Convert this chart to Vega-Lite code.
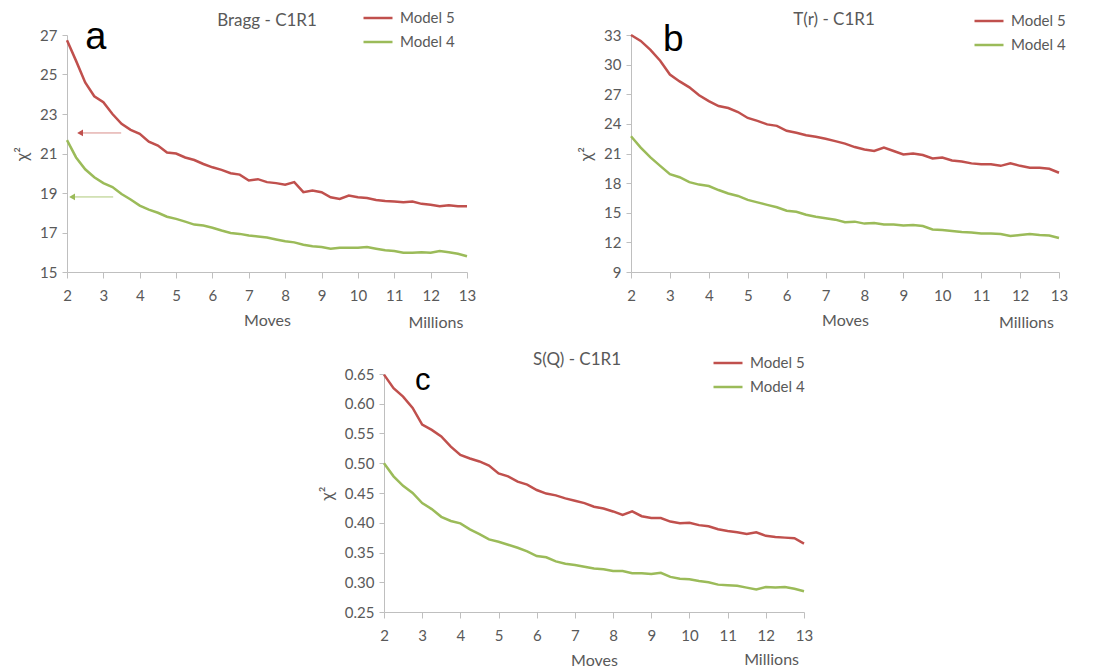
{
 "$schema": "https://vega.github.io/schema/vega-lite/v6.json",
 "padding": {"left": 13, "top": 2, "right": 5, "bottom": 0},
 "config": {
  "view": {"stroke": null},
  "font": "Lato",
  "axis": {"domainColor": "#BFBFBF", "tickColor": "#BFBFBF", "labelColor": "#595959", "titleColor": "#595959", "labelFont": "Lato", "titleFont": "Lato", "labelFontSize": 15, "titleFontSize": 16, "titleFontWeight": "normal", "grid": false, "domainWidth": 1, "tickWidth": 1, "labelOverlap": false},
  "legend": {"symbolType": "stroke", "symbolStrokeWidth": 2.5, "symbolSize": 841, "labelFontSize": 15, "labelColor": "#595959", "labelFont": "Lato", "rowPadding": -6, "labelOffset": 6, "padding": 0},
  "title": {"font": "Lato", "fontSize": 17, "fontWeight": "normal", "color": "#595959", "anchor": "middle", "frame": "group", "baseline": "alphabetic"}
 },
 "datasets": {
  "bragg": [
   {"m":2,"model":"Model 5","chi2":26.73},{"m":2.25,"model":"Model 5","chi2":25.69},{"m":2.5,"model":"Model 5","chi2":24.6},{"m":2.75,"model":"Model 5","chi2":23.9},{"m":3,"model":"Model 5","chi2":23.6},{"m":3.25,"model":"Model 5","chi2":23.0},{"m":3.5,"model":"Model 5","chi2":22.5},{"m":3.75,"model":"Model 5","chi2":22.2},{"m":4,"model":"Model 5","chi2":22.0},{"m":4.25,"model":"Model 5","chi2":21.6},{"m":4.5,"model":"Model 5","chi2":21.4},{"m":4.75,"model":"Model 5","chi2":21.05},{"m":5,"model":"Model 5","chi2":21.0},{"m":5.25,"model":"Model 5","chi2":20.8},{"m":5.5,"model":"Model 5","chi2":20.67},{"m":5.75,"model":"Model 5","chi2":20.47},{"m":6,"model":"Model 5","chi2":20.3},{"m":6.25,"model":"Model 5","chi2":20.17},{"m":6.5,"model":"Model 5","chi2":20.0},{"m":6.75,"model":"Model 5","chi2":19.93},{"m":7,"model":"Model 5","chi2":19.63},{"m":7.25,"model":"Model 5","chi2":19.7},{"m":7.5,"model":"Model 5","chi2":19.55},{"m":7.75,"model":"Model 5","chi2":19.5},{"m":8,"model":"Model 5","chi2":19.42},{"m":8.25,"model":"Model 5","chi2":19.55},{"m":8.5,"model":"Model 5","chi2":19.04},{"m":8.75,"model":"Model 5","chi2":19.12},{"m":9,"model":"Model 5","chi2":19.04},{"m":9.25,"model":"Model 5","chi2":18.78},{"m":9.5,"model":"Model 5","chi2":18.7},{"m":9.75,"model":"Model 5","chi2":18.87},{"m":10,"model":"Model 5","chi2":18.78},{"m":10.25,"model":"Model 5","chi2":18.75},{"m":10.5,"model":"Model 5","chi2":18.65},{"m":10.75,"model":"Model 5","chi2":18.6},{"m":11,"model":"Model 5","chi2":18.57},{"m":11.25,"model":"Model 5","chi2":18.53},{"m":11.5,"model":"Model 5","chi2":18.57},{"m":11.75,"model":"Model 5","chi2":18.45},{"m":12,"model":"Model 5","chi2":18.41},{"m":12.25,"model":"Model 5","chi2":18.33},{"m":12.5,"model":"Model 5","chi2":18.38},{"m":12.75,"model":"Model 5","chi2":18.33},{"m":13,"model":"Model 5","chi2":18.33},
   {"m":2,"model":"Model 4","chi2":21.68},{"m":2.25,"model":"Model 4","chi2":20.8},{"m":2.5,"model":"Model 4","chi2":20.2},{"m":2.75,"model":"Model 4","chi2":19.8},{"m":3,"model":"Model 4","chi2":19.5},{"m":3.25,"model":"Model 4","chi2":19.3},{"m":3.5,"model":"Model 4","chi2":18.95},{"m":3.75,"model":"Model 4","chi2":18.67},{"m":4,"model":"Model 4","chi2":18.36},{"m":4.25,"model":"Model 4","chi2":18.16},{"m":4.5,"model":"Model 4","chi2":18.0},{"m":4.75,"model":"Model 4","chi2":17.8},{"m":5,"model":"Model 4","chi2":17.69},{"m":5.25,"model":"Model 4","chi2":17.55},{"m":5.5,"model":"Model 4","chi2":17.4},{"m":5.75,"model":"Model 4","chi2":17.35},{"m":6,"model":"Model 4","chi2":17.24},{"m":6.25,"model":"Model 4","chi2":17.1},{"m":6.5,"model":"Model 4","chi2":16.98},{"m":6.75,"model":"Model 4","chi2":16.93},{"m":7,"model":"Model 4","chi2":16.85},{"m":7.25,"model":"Model 4","chi2":16.8},{"m":7.5,"model":"Model 4","chi2":16.75},{"m":7.75,"model":"Model 4","chi2":16.65},{"m":8,"model":"Model 4","chi2":16.56},{"m":8.25,"model":"Model 4","chi2":16.5},{"m":8.5,"model":"Model 4","chi2":16.38},{"m":8.75,"model":"Model 4","chi2":16.3},{"m":9,"model":"Model 4","chi2":16.26},{"m":9.25,"model":"Model 4","chi2":16.18},{"m":9.5,"model":"Model 4","chi2":16.23},{"m":9.75,"model":"Model 4","chi2":16.23},{"m":10,"model":"Model 4","chi2":16.23},{"m":10.25,"model":"Model 4","chi2":16.26},{"m":10.5,"model":"Model 4","chi2":16.18},{"m":10.75,"model":"Model 4","chi2":16.1},{"m":11,"model":"Model 4","chi2":16.06},{"m":11.25,"model":"Model 4","chi2":15.97},{"m":11.5,"model":"Model 4","chi2":15.97},{"m":11.75,"model":"Model 4","chi2":16.0},{"m":12,"model":"Model 4","chi2":15.97},{"m":12.25,"model":"Model 4","chi2":16.06},{"m":12.5,"model":"Model 4","chi2":16.0},{"m":12.75,"model":"Model 4","chi2":15.92},{"m":13,"model":"Model 4","chi2":15.8}
  ],
  "tr": [
   {"m":2,"model":"Model 5","chi2":33.0},{"m":2.25,"model":"Model 5","chi2":32.4},{"m":2.5,"model":"Model 5","chi2":31.5},{"m":2.75,"model":"Model 5","chi2":30.4},{"m":3,"model":"Model 5","chi2":29.0},{"m":3.25,"model":"Model 5","chi2":28.3},{"m":3.5,"model":"Model 5","chi2":27.7},{"m":3.75,"model":"Model 5","chi2":26.9},{"m":4,"model":"Model 5","chi2":26.3},{"m":4.25,"model":"Model 5","chi2":25.8},{"m":4.5,"model":"Model 5","chi2":25.6},{"m":4.75,"model":"Model 5","chi2":25.2},{"m":5,"model":"Model 5","chi2":24.6},{"m":5.25,"model":"Model 5","chi2":24.3},{"m":5.5,"model":"Model 5","chi2":23.95},{"m":5.75,"model":"Model 5","chi2":23.8},{"m":6,"model":"Model 5","chi2":23.3},{"m":6.25,"model":"Model 5","chi2":23.1},{"m":6.5,"model":"Model 5","chi2":22.85},{"m":6.75,"model":"Model 5","chi2":22.7},{"m":7,"model":"Model 5","chi2":22.5},{"m":7.25,"model":"Model 5","chi2":22.25},{"m":7.5,"model":"Model 5","chi2":22.0},{"m":7.75,"model":"Model 5","chi2":21.65},{"m":8,"model":"Model 5","chi2":21.4},{"m":8.25,"model":"Model 5","chi2":21.25},{"m":8.5,"model":"Model 5","chi2":21.6},{"m":8.75,"model":"Model 5","chi2":21.25},{"m":9,"model":"Model 5","chi2":20.9},{"m":9.25,"model":"Model 5","chi2":21.0},{"m":9.5,"model":"Model 5","chi2":20.85},{"m":9.75,"model":"Model 5","chi2":20.5},{"m":10,"model":"Model 5","chi2":20.6},{"m":10.25,"model":"Model 5","chi2":20.3},{"m":10.5,"model":"Model 5","chi2":20.2},{"m":10.75,"model":"Model 5","chi2":20.0},{"m":11,"model":"Model 5","chi2":19.9},{"m":11.25,"model":"Model 5","chi2":19.9},{"m":11.5,"model":"Model 5","chi2":19.75},{"m":11.75,"model":"Model 5","chi2":20.0},{"m":12,"model":"Model 5","chi2":19.75},{"m":12.25,"model":"Model 5","chi2":19.55},{"m":12.5,"model":"Model 5","chi2":19.55},{"m":12.75,"model":"Model 5","chi2":19.45},{"m":13,"model":"Model 5","chi2":19.05},
   {"m":2,"model":"Model 4","chi2":22.75},{"m":2.25,"model":"Model 4","chi2":21.6},{"m":2.5,"model":"Model 4","chi2":20.6},{"m":2.75,"model":"Model 4","chi2":19.75},{"m":3,"model":"Model 4","chi2":18.9},{"m":3.25,"model":"Model 4","chi2":18.6},{"m":3.5,"model":"Model 4","chi2":18.1},{"m":3.75,"model":"Model 4","chi2":17.85},{"m":4,"model":"Model 4","chi2":17.7},{"m":4.25,"model":"Model 4","chi2":17.3},{"m":4.5,"model":"Model 4","chi2":16.95},{"m":4.75,"model":"Model 4","chi2":16.7},{"m":5,"model":"Model 4","chi2":16.3},{"m":5.25,"model":"Model 4","chi2":16.05},{"m":5.5,"model":"Model 4","chi2":15.8},{"m":5.75,"model":"Model 4","chi2":15.55},{"m":6,"model":"Model 4","chi2":15.2},{"m":6.25,"model":"Model 4","chi2":15.1},{"m":6.5,"model":"Model 4","chi2":14.8},{"m":6.75,"model":"Model 4","chi2":14.6},{"m":7,"model":"Model 4","chi2":14.45},{"m":7.25,"model":"Model 4","chi2":14.3},{"m":7.5,"model":"Model 4","chi2":14.05},{"m":7.75,"model":"Model 4","chi2":14.1},{"m":8,"model":"Model 4","chi2":13.9},{"m":8.25,"model":"Model 4","chi2":13.95},{"m":8.5,"model":"Model 4","chi2":13.8},{"m":8.75,"model":"Model 4","chi2":13.8},{"m":9,"model":"Model 4","chi2":13.7},{"m":9.25,"model":"Model 4","chi2":13.75},{"m":9.5,"model":"Model 4","chi2":13.65},{"m":9.75,"model":"Model 4","chi2":13.3},{"m":10,"model":"Model 4","chi2":13.25},{"m":10.25,"model":"Model 4","chi2":13.15},{"m":10.5,"model":"Model 4","chi2":13.05},{"m":10.75,"model":"Model 4","chi2":13.0},{"m":11,"model":"Model 4","chi2":12.9},{"m":11.25,"model":"Model 4","chi2":12.9},{"m":11.5,"model":"Model 4","chi2":12.85},{"m":11.75,"model":"Model 4","chi2":12.65},{"m":12,"model":"Model 4","chi2":12.75},{"m":12.25,"model":"Model 4","chi2":12.85},{"m":12.5,"model":"Model 4","chi2":12.75},{"m":12.75,"model":"Model 4","chi2":12.7},{"m":13,"model":"Model 4","chi2":12.45}
  ],
  "sq": [
   {"m":2,"model":"Model 5","chi2":0.649},{"m":2.25,"model":"Model 5","chi2":0.626},{"m":2.5,"model":"Model 5","chi2":0.612},{"m":2.75,"model":"Model 5","chi2":0.593},{"m":3,"model":"Model 5","chi2":0.565},{"m":3.25,"model":"Model 5","chi2":0.556},{"m":3.5,"model":"Model 5","chi2":0.545},{"m":3.75,"model":"Model 5","chi2":0.528},{"m":4,"model":"Model 5","chi2":0.514},{"m":4.25,"model":"Model 5","chi2":0.508},{"m":4.5,"model":"Model 5","chi2":0.503},{"m":4.75,"model":"Model 5","chi2":0.496},{"m":5,"model":"Model 5","chi2":0.483},{"m":5.25,"model":"Model 5","chi2":0.478},{"m":5.5,"model":"Model 5","chi2":0.469},{"m":5.75,"model":"Model 5","chi2":0.464},{"m":6,"model":"Model 5","chi2":0.455},{"m":6.25,"model":"Model 5","chi2":0.449},{"m":6.5,"model":"Model 5","chi2":0.446},{"m":6.75,"model":"Model 5","chi2":0.441},{"m":7,"model":"Model 5","chi2":0.437},{"m":7.25,"model":"Model 5","chi2":0.433},{"m":7.5,"model":"Model 5","chi2":0.427},{"m":7.75,"model":"Model 5","chi2":0.424},{"m":8,"model":"Model 5","chi2":0.419},{"m":8.25,"model":"Model 5","chi2":0.413},{"m":8.5,"model":"Model 5","chi2":0.419},{"m":8.75,"model":"Model 5","chi2":0.411},{"m":9,"model":"Model 5","chi2":0.408},{"m":9.25,"model":"Model 5","chi2":0.408},{"m":9.5,"model":"Model 5","chi2":0.402},{"m":9.75,"model":"Model 5","chi2":0.399},{"m":10,"model":"Model 5","chi2":0.4},{"m":10.25,"model":"Model 5","chi2":0.396},{"m":10.5,"model":"Model 5","chi2":0.394},{"m":10.75,"model":"Model 5","chi2":0.389},{"m":11,"model":"Model 5","chi2":0.386},{"m":11.25,"model":"Model 5","chi2":0.384},{"m":11.5,"model":"Model 5","chi2":0.381},{"m":11.75,"model":"Model 5","chi2":0.384},{"m":12,"model":"Model 5","chi2":0.378},{"m":12.25,"model":"Model 5","chi2":0.376},{"m":12.5,"model":"Model 5","chi2":0.375},{"m":12.75,"model":"Model 5","chi2":0.374},{"m":13,"model":"Model 5","chi2":0.365},
   {"m":2,"model":"Model 4","chi2":0.5},{"m":2.25,"model":"Model 4","chi2":0.478},{"m":2.5,"model":"Model 4","chi2":0.462},{"m":2.75,"model":"Model 4","chi2":0.45},{"m":3,"model":"Model 4","chi2":0.433},{"m":3.25,"model":"Model 4","chi2":0.423},{"m":3.5,"model":"Model 4","chi2":0.41},{"m":3.75,"model":"Model 4","chi2":0.403},{"m":4,"model":"Model 4","chi2":0.399},{"m":4.25,"model":"Model 4","chi2":0.389},{"m":4.5,"model":"Model 4","chi2":0.381},{"m":4.75,"model":"Model 4","chi2":0.372},{"m":5,"model":"Model 4","chi2":0.368},{"m":5.25,"model":"Model 4","chi2":0.363},{"m":5.5,"model":"Model 4","chi2":0.358},{"m":5.75,"model":"Model 4","chi2":0.352},{"m":6,"model":"Model 4","chi2":0.344},{"m":6.25,"model":"Model 4","chi2":0.342},{"m":6.5,"model":"Model 4","chi2":0.335},{"m":6.75,"model":"Model 4","chi2":0.331},{"m":7,"model":"Model 4","chi2":0.329},{"m":7.25,"model":"Model 4","chi2":0.326},{"m":7.5,"model":"Model 4","chi2":0.323},{"m":7.75,"model":"Model 4","chi2":0.322},{"m":8,"model":"Model 4","chi2":0.319},{"m":8.25,"model":"Model 4","chi2":0.319},{"m":8.5,"model":"Model 4","chi2":0.315},{"m":8.75,"model":"Model 4","chi2":0.315},{"m":9,"model":"Model 4","chi2":0.314},{"m":9.25,"model":"Model 4","chi2":0.316},{"m":9.5,"model":"Model 4","chi2":0.309},{"m":9.75,"model":"Model 4","chi2":0.306},{"m":10,"model":"Model 4","chi2":0.305},{"m":10.25,"model":"Model 4","chi2":0.302},{"m":10.5,"model":"Model 4","chi2":0.3},{"m":10.75,"model":"Model 4","chi2":0.296},{"m":11,"model":"Model 4","chi2":0.295},{"m":11.25,"model":"Model 4","chi2":0.294},{"m":11.5,"model":"Model 4","chi2":0.291},{"m":11.75,"model":"Model 4","chi2":0.288},{"m":12,"model":"Model 4","chi2":0.292},{"m":12.25,"model":"Model 4","chi2":0.291},{"m":12.5,"model":"Model 4","chi2":0.292},{"m":12.75,"model":"Model 4","chi2":0.289},{"m":13,"model":"Model 4","chi2":0.285}
  ]
 },
 "spacing": 15,
 "resolve": {"scale": {"color": "independent", "x": "independent", "y": "independent"}, "legend": {"color": "independent"}},
 "vconcat": [
  {
   "spacing": 101,
   "resolve": {"scale": {"color": "independent", "x": "independent", "y": "independent"}, "legend": {"color": "independent"}},
   "hconcat": [
    {
     "width": 400, "height": 237,
     "title": {"text": "Bragg - C1R1", "offset": -28},
     "encoding": {
      "x": {"field": "m", "type": "quantitative", "scale": {"domain": [2, 13], "nice": false, "zero": false}, "axis": {"values": [2,3,4,5,6,7,8,9,10,11,12,13], "title": "Moves", "tickSize": 6, "labelPadding": 10, "titlePadding": 9, "labelFlush": false, "labelOverlap": false}},
      "y": {"field": "chi2", "type": "quantitative", "scale": {"domain": [15, 27], "nice": false, "zero": false}, "axis": {"values": [15,17,19,21,23,25,27], "title": "χ²", "titlePadding": 8, "tickSize": 5, "labelPadding": 5, "titleFontSize": 17, "labelOverlap": false}}
     },
     "layer": [
      {"data": {"name": "bragg"}, "mark": {"type": "line", "strokeWidth": 2.5},
       "encoding": {
        "color": {"field": "model", "type": "nominal", "scale": {"domain": ["Model 5", "Model 4"], "range": ["#C0504D", "#9BBB59"]}, "legend": {"orient": "none", "legendX": 295, "legendY": -33, "title": null}}
       }},
      {"data": {"values": [{"m": 2.36, "m2": 3.49, "chi2": 22.04, "model": "Model 5"}, {"m": 2.14, "m2": 3.27, "chi2": 18.8, "model": "Model 4"}]},
       "mark": {"type": "rule", "strokeWidth": 1, "opacity": 0.8},
       "encoding": {
        "x2": {"field": "m2"},
        "stroke": {"field": "model", "type": "nominal", "scale": {"domain": ["Model 5", "Model 4"], "range": ["#D0706D", "#9BBB59"]}, "legend": null}
       }},
      {"data": {"values": [{"m": 2.36, "chi2": 22.04, "model": "Model 5"}, {"m": 2.14, "chi2": 18.8, "model": "Model 4"}]},
       "mark": {"type": "point", "shape": "triangle-left", "filled": true, "size": 45, "opacity": 1},
       "encoding": {
        "fill": {"field": "model", "type": "nominal", "scale": {"domain": ["Model 5", "Model 4"], "range": ["#C0504D", "#9BBB59"]}, "legend": null}
       }},
      {"data": {"values": [{"m": 2.5, "chi2": 26.3, "t": "a"}]},
       "mark": {"type": "text", "font": "Liberation Sans", "fontSize": 38, "color": "#000000", "align": "left", "baseline": "alphabetic", "clip": false},
       "encoding": {"text": {"field": "t"}}},
      {"data": {"values": [{"m": 12.9, "chi2": 12.16, "t": "Millions"}]},
       "mark": {"type": "text", "font": "Lato", "fontSize": 16, "color": "#595959", "align": "right", "baseline": "alphabetic", "clip": false},
       "encoding": {"text": {"field": "t"}}}
     ]
    },
    {
     "width": 428, "height": 237,
     "title": {"text": "T(r) - C1R1", "dx": -11, "offset": -24},
     "encoding": {
      "x": {"field": "m", "type": "quantitative", "scale": {"domain": [2, 13], "nice": false, "zero": false}, "axis": {"values": [2,3,4,5,6,7,8,9,10,11,12,13], "title": "Moves", "tickSize": 6, "labelPadding": 10, "titlePadding": 9, "labelFlush": false, "labelOverlap": false}},
      "y": {"field": "chi2", "type": "quantitative", "scale": {"domain": [9, 33], "nice": false, "zero": false}, "axis": {"values": [9,12,15,18,21,24,27,30,33], "title": "χ²", "titlePadding": 8, "tickSize": 5, "labelPadding": 5, "titleFontSize": 17, "labelOverlap": false}}
     },
     "layer": [
      {"data": {"name": "tr"}, "mark": {"type": "line", "strokeWidth": 2.5},
       "encoding": {
        "color": {"field": "model", "type": "nominal", "scale": {"domain": ["Model 5", "Model 4"], "range": ["#C0504D", "#9BBB59"]}, "legend": {"orient": "none", "legendX": 342, "legendY": -30, "title": null}}
       }},
      {"data": {"values": [{"m": 2.82, "chi2": 31.4, "t": "b"}]},
       "mark": {"type": "text", "font": "Liberation Sans", "fontSize": 37, "color": "#000000", "align": "left", "baseline": "alphabetic", "clip": false},
       "encoding": {"text": {"field": "t"}}},
      {"data": {"values": [{"m": 12.87, "chi2": 3.33, "t": "Millions"}]},
       "mark": {"type": "text", "font": "Lato", "fontSize": 16, "color": "#595959", "align": "right", "baseline": "alphabetic", "clip": false},
       "encoding": {"text": {"field": "t"}}}
     ]
    }
   ]
  },
  {
   "spacing": 6,
   "resolve": {"scale": {"color": "independent", "x": "independent", "y": "independent"}, "legend": {"color": "independent"}},
   "hconcat": [
    {"width": 245, "height": 10, "data": {"values": []}, "mark": {"type": "text"}, "encoding": {}},
    {
     "width": 420, "height": 238,
     "title": {"text": "S(Q) - C1R1", "dx": -17, "offset": -22},
     "encoding": {
      "x": {"field": "m", "type": "quantitative", "scale": {"domain": [2, 13], "nice": false, "zero": false}, "axis": {"values": [2,3,4,5,6,7,8,9,10,11,12,13], "title": "Moves", "tickSize": 6, "labelPadding": 10, "titlePadding": 9, "labelFlush": false, "labelOverlap": false}},
      "y": {"field": "chi2", "type": "quantitative", "scale": {"domain": [0.25, 0.65], "nice": false, "zero": false}, "axis": {"values": [0.25,0.3,0.35,0.4,0.45,0.5,0.55,0.6,0.65], "format": ".2f", "title": "χ²", "titlePadding": 8, "tickSize": 5, "labelPadding": 5, "titleFontSize": 17, "labelOverlap": false}}
     },
     "layer": [
      {"data": {"name": "sq"}, "mark": {"type": "line", "strokeWidth": 2.5},
       "encoding": {
        "color": {"field": "model", "type": "nominal", "scale": {"domain": ["Model 5", "Model 4"], "range": ["#C0504D", "#9BBB59"]}, "legend": {"orient": "none", "legendX": 328, "legendY": -27, "title": null}}
       }},
      {"data": {"values": [{"m": 2.81, "chi2": 0.623, "t": "c"}]},
       "mark": {"type": "text", "font": "Liberation Sans", "fontSize": 31, "color": "#000000", "align": "left", "baseline": "alphabetic", "clip": false},
       "encoding": {"text": {"field": "t"}}},
      {"data": {"values": [{"m": 12.87, "chi2": 0.161, "t": "Millions"}]},
       "mark": {"type": "text", "font": "Lato", "fontSize": 16, "color": "#595959", "align": "right", "baseline": "alphabetic", "clip": false},
       "encoding": {"text": {"field": "t"}}}
     ]
    }
   ]
  }
 ]
}
